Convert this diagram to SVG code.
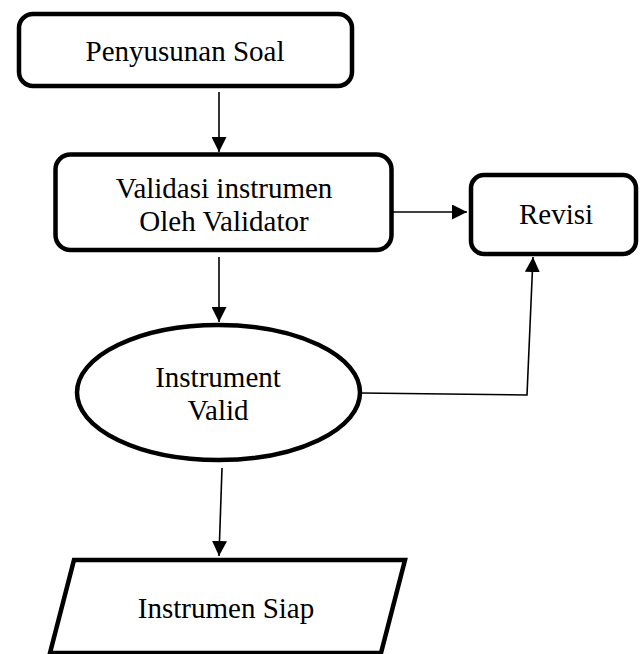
<svg xmlns="http://www.w3.org/2000/svg" width="643" height="654" viewBox="0 0 643 654">
<defs>
<style>
.node{fill:#fff;stroke:#000;stroke-width:4.5}
.t{font-family:"Liberation Serif","Times New Roman",serif;font-size:29px;fill:#000;text-anchor:middle}
.c{fill:none;stroke:#000;stroke-width:1.6}
</style>
<marker id="ah" viewBox="0 0 10 10" refX="10" refY="5" markerWidth="15" markerHeight="15" markerUnits="userSpaceOnUse" orient="auto">
<path d="M0,0 L10,5 L0,10 z" fill="#000"/>
</marker>
</defs>
<rect width="643" height="654" fill="#fff"/>
<g id="penyusunan">
<rect class="node" x="19" y="14" width="333" height="72" rx="14"/>
<text class="t" x="185" y="61">Penyusunan Soal</text>
</g>
<g id="validasi">
<rect class="node" x="55.5" y="154.5" width="336" height="95.5" rx="15"/>
<text class="t" x="224" y="198">Validasi instrumen</text>
<text class="t" x="224" y="231">Oleh Validator</text>
</g>
<g id="revisi">
<rect class="node" x="471" y="175" width="165" height="79" rx="13"/>
<text class="t" x="556" y="224">Revisi</text>
</g>
<g id="valid">
<ellipse class="node" cx="218.5" cy="392.5" rx="141.5" ry="67.5"/>
<text class="t" x="218" y="387">Instrument</text>
<text class="t" x="218" y="420">Valid</text>
</g>
<g id="siap">
<polygon class="node" points="74,560 405,560 381,653 50,653"/>
<text class="t" x="226" y="618">Instrumen Siap</text>
</g>
<g id="connectors">
<line class="c" x1="219" y1="92" x2="219" y2="152" marker-end="url(#ah)"/>
<line class="c" x1="393" y1="212" x2="467" y2="212" marker-end="url(#ah)"/>
<line class="c" x1="219" y1="257" x2="219" y2="322" marker-end="url(#ah)"/>
<polyline class="c" points="361,393 527,395 533,257" marker-end="url(#ah)"/>
<line class="c" x1="222" y1="468" x2="219" y2="556" marker-end="url(#ah)"/>
</g>
</svg>
